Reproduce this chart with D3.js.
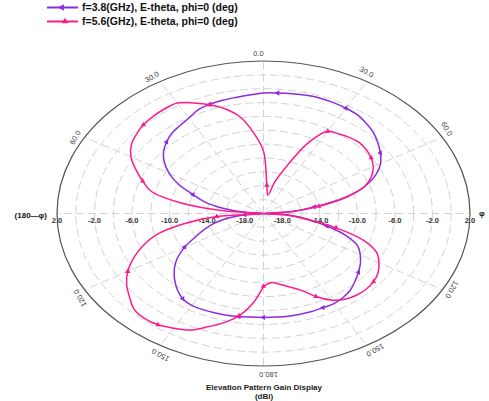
<!DOCTYPE html>
<html><head><meta charset="utf-8">
<script src="https://cdn.jsdelivr.net/npm/d3@7/dist/d3.min.js"></script>
<style>body{margin:0;background:#fff}svg{display:block}</style>
</head><body>
<svg id="c" width="489" height="401"></svg>
<script>
// Data
const thetas = [-180,-175,-170,-165,-160,-155,-150,-145,-140,-135,-130,-125,-120,-115,-110,-105,-100,-95,-90,-85,-80,-75,-70,-65,-60,-55,-50,-45,-40,-35,-30,-25,-20,-15,-10,-5,0,5,10,15,20,25,30,35,40,45,50,55,60,65,70,75,80,85,90,95,100,105,110,115,120,125,130,135,140,145,150,155,160,165,170,175,180];
const gain38 = [-5.0,-5.0,-4.9,-4.8,-4.75,-4.7,-4.7,-5.0,-5.7,-6.6,-7.6,-8.8,-10.3,-12.0,-13.3,-14.6,-16.2,-18.0,-20,-18.0,-15.6,-13.5,-12.0,-10.0,-8.4,-7.1,-6.1,-5.4,-4.85,-4.5,-4.1,-3.5,-3.25,-3.1,-3.0,-2.85,-2.62,-2.55,-2.45,-2.35,-2.3,-2.35,-2.45,-2.6,-3.0,-3.45,-4.1,-4.8,-5.6,-6.8,-8.5,-11.0,-14.5,-17.2,-20,-17.2,-15.2,-13.0,-10.6,-8.9,-8.1,-7.4,-6.8,-6.2,-5.6,-5.2,-5.0,-5.0,-4.95,-4.95,-4.95,-5.0,-5.0];
const gain56 = [-9.5,-7.0,-5.0,-3.7,-2.6,-1.45,-0.9,-0.4,-0.25,-0.5,-1.35,-2.2,-3.3,-4.7,-6.3,-8.2,-11.3,-15.0,-20,-16.0,-11.0,-7.6,-6.3,-5.0,-3.7,-2.8,-2.3,-1.9,-1.7,-1.6,-1.6,-2.4,-3.3,-4.4,-5.9,-8.4,-11.0,-15.9,-17.3,-15.2,-12.7,-8.8,-6.3,-6.0,-5.7,-5.55,-5.7,-6.0,-6.5,-7.3,-8.5,-10.8,-14.0,-17.0,-20,-17.8,-15.5,-12.0,-8.6,-6.7,-5.8,-5.1,-4.7,-4.55,-4.6,-4.9,-5.6,-6.8,-8.2,-9.0,-9.6,-10.0,-9.5];
const ringValues = [0,-2,-4,-6,-8,-10,-12,-14,-16,-18];
const radialTickValues = [2,-2,-6,-10,-14,-18];
const angleTicks = [0,30,60,120,150,180,-30,-60,-120,-150];
const spokeAngles = [0,30,60,90,120,150,180,210,240,270,300,330];
const seriesNames = ["f=3.8(GHz), E-theta, phi=0 (deg)","f=5.6(GHz), E-theta, phi=0 (deg)"];
const colors = ["#8a2be2","#ff1a8c"];

const svg = d3.select("#c");
const cx = 263.5, cy = 213.5, rx = 206.5, ry = 152.5;
const r = d3.scaleLinear().domain([-20, 2]).range([0, 1]).clamp(true);
const rad = d => d * Math.PI / 180;
const px = (t, v) => cx + r(v) * rx * Math.sin(rad(t));
const py = (t, v) => cy - r(v) * ry * Math.cos(rad(t));

const grid = svg.append("g");
// rings
grid.selectAll("ellipse.ring").data(ringValues).join("ellipse")
  .attr("cx", cx).attr("cy", cy)
  .attr("rx", d => r(d) * rx).attr("ry", d => r(d) * ry)
  .attr("fill", "none").attr("stroke", "#d2d2d2").attr("stroke-width", 1)
  .attr("stroke-dasharray", "8,4");
// spokes
grid.selectAll("line.spoke").data(spokeAngles).join("line")
  .attr("x1", cx).attr("y1", cy)
  .attr("x2", d => px(d, 2)).attr("y2", d => py(d, 2))
  .attr("stroke", "#d2d2d2").attr("stroke-width", 1).attr("stroke-dasharray", "8,4");
// outer
grid.append("ellipse").attr("cx", cx).attr("cy", cy).attr("rx", rx).attr("ry", ry)
  .attr("fill", "none").attr("stroke", "#555").attr("stroke-width", 1.2);

// radial tick labels
const lbl = svg.append("g").attr("font-family", "Liberation Sans, Arial, sans-serif")
  .attr("font-size", 7.5).attr("font-weight", "bold").attr("fill", "#333");
[-90, 90].forEach(side => {
  lbl.selectAll(null).data(radialTickValues).join("text")
    .attr("x", d => px(side, d)).attr("y", cy + 9)
    .attr("text-anchor", "middle").text(d => d.toFixed(1));
});
lbl.append("text").attr("x", 47).attr("y", 218).attr("text-anchor", "end").attr("font-size", 8).attr("fill", "#111").text("(180\u2014\u03c6)");
lbl.append("text").attr("x", 479).attr("y", 216).attr("font-size", 8).attr("fill", "#111").text("\u03c6");

// angle labels
svg.append("g").selectAll("text").data(angleTicks).join("text")
  .attr("font-family", "Liberation Sans, Arial, sans-serif").attr("font-size", 7.5).attr("fill", "#444")
  .attr("text-anchor", "middle").attr("dominant-baseline", "central")
  .attr("transform", d => {
    const x = cx + (rx + 8) * Math.sin(rad(d)), y = cy - (ry + 8) * Math.cos(rad(d));
    return `translate(${x},${y}) rotate(${d})`;
  })
  .attr("x", -5)
  .text(d => Math.abs(d).toFixed(1));

// curves
const line = d3.line().x(d => px(d[0], d[1])).y(d => py(d[0], d[1])).curve(d3.curveCatmullRom.alpha(0.5));
const series = [gain38, gain56];
series.forEach((vals, i) => {
  const pts = thetas.map((t, j) => [t, vals[j]]);
  svg.append("path").datum(pts).attr("d", line)
    .attr("fill", "none").attr("stroke", colors[i]).attr("stroke-width", 1.5);
  svg.append("g").selectAll("path").data(pts.filter((d, j) => j % 5 === 2)).join("path")
    .attr("d", d3.symbol().type(d3.symbolTriangle).size(12))
    .attr("transform", d => `translate(${px(d[0], d[1])},${py(d[0], d[1])}) rotate(${i === 0 ? -90 : 0})`)
    .attr("fill", colors[i]);
});

// legend
const leg = svg.append("g");
seriesNames.forEach((name, i) => {
  const y = 7.5 + i * 14;
  leg.append("line").attr("x1", 47).attr("x2", 78).attr("y1", y).attr("y2", y)
    .attr("stroke", colors[i]).attr("stroke-width", 2);
  leg.append("path").attr("d", d3.symbol().type(d3.symbolTriangle).size(18))
    .attr("transform", `translate(${i === 0 ? 62 : 65},${y}) rotate(${i === 0 ? -90 : 0})`)
    .attr("fill", colors[i]);
  leg.append("text").attr("x", 82).attr("y", y + 3.8)
    .attr("font-family", "Liberation Sans, Arial, sans-serif").attr("font-size", 10.5)
    .attr("font-weight", "bold").attr("fill", "#111").text(name);
});

// title
const tt = svg.append("g").attr("font-family", "Liberation Sans, Arial, sans-serif")
  .attr("font-weight", "bold").attr("font-size", 8).attr("fill", "#222").attr("text-anchor", "middle");
tt.append("text").attr("x", 264).attr("y", 390).text("Elevation Pattern Gain Display");
tt.append("text").attr("x", 264).attr("y", 398.5).text("(dBi)");
</script>
</body></html>
